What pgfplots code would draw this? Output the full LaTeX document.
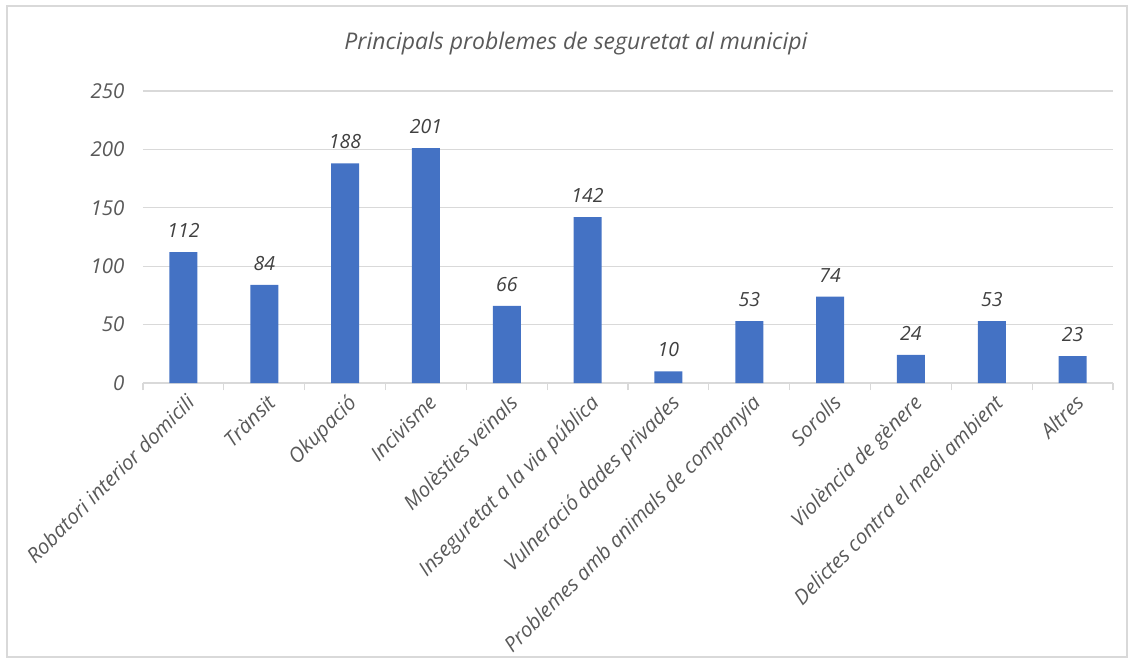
\documentclass[border=0pt]{standalone}
\usepackage{pgfplots}
\pgfplotsset{compat=1.18}
\usepackage{fontspec}
\setmainfont{Open Sans}
\definecolor{barblue}{HTML}{4472C4}
\definecolor{lblgray}{HTML}{595959}
\definecolor{dlgray}{HTML}{404040}
\definecolor{gridgray}{HTML}{D9D9D9}
\definecolor{framegray}{HTML}{D9D9D9}
\begin{document}
\begin{tikzpicture}
\useasboundingbox (-143pt,-281pt) rectangle (991pt,383pt);
\draw[framegray, line width=1.5pt] (-136pt,-274pt) rectangle (984pt,377pt);
\begin{axis}[
  scale only axis,
  width=970pt, height=292pt,
  at={(0pt,0pt)}, anchor=south west,
  xmin=-0.5, xmax=11.5,
  ymin=0, ymax=250,
  ytick={0,50,100,150,200,250},
  xtick={0,...,11},
  xticklabels={Robatori interior domicili,Trànsit,Okupació,Incivisme,Molèsties veïnals,Inseguretat a la via pública,Vulneració dades privades,Problemes amb animals de companyia,Sorolls,Violència de gènere,Delictes contra el medi ambient,Altres},
  minor xtick={-0.5,0.5,...,11.5},
  major tick length=0pt,
  minor tick length=7pt,
  tick align=outside,
  minor tick style={gridgray, line width=1.2pt},
  axis x line*=bottom,
  axis y line*=left,
  x axis line style={gridgray, line width=1.2pt, -},
  y axis line style={draw=none},
  ytick style={draw=none},
  ymajorgrids,
  grid style={gridgray, line width=1.2pt},
  /pgf/number format/assume math mode=true,
  ticklabel style={font=\fontsize{20.5}{24}\selectfont\itshape, text=lblgray},
  yticklabel style={xshift=-15pt},
  xticklabel style={rotate=45, anchor=north east, inner sep=2pt, yshift=-6pt, xshift=-4pt},
  ybar, bar width=28pt,
  nodes near coords,
  every node near coord/.append style={font=\fontsize{19.5}{23}\selectfont\itshape, text=dlgray, yshift=11pt},
  clip=false,
]
\addplot[fill=barblue, draw=none] coordinates {
(0,112) (1,84) (2,188) (3,201) (4,66) (5,142) (6,10) (7,53) (8,74) (9,24) (10,53) (11,23)};
\end{axis}
\node[font=\fontsize{23}{27}\selectfont\itshape, text=lblgray] at (433pt,339pt) {Principals problemes de seguretat al municipi};
\end{tikzpicture}
\end{document}
